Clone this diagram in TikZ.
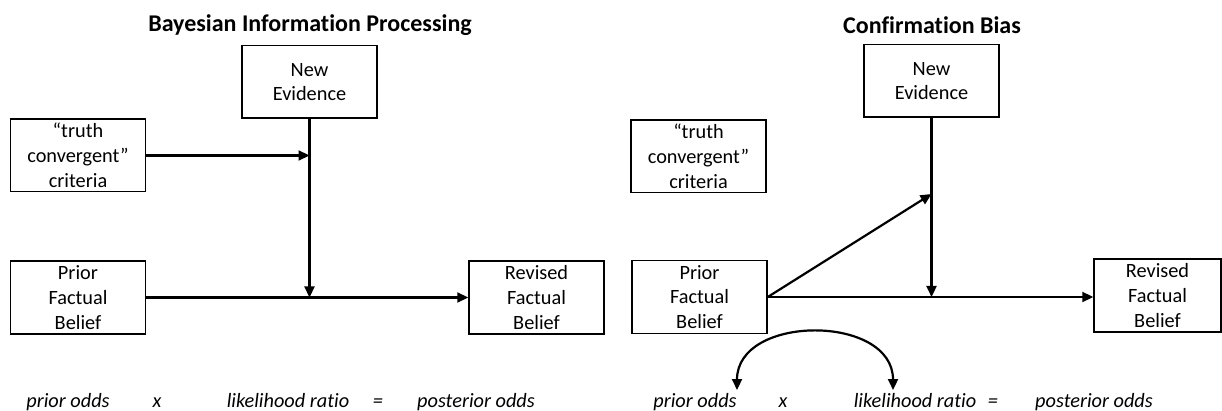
\documentclass[tikz,border=0pt]{standalone}
\usepackage{fontspec}
\setmainfont{Carlito}[Ligatures=NoCommon]
\usetikzlibrary{arrows.meta}
\tikzstyle{every node}=[font=\fontsize{20.3}{24.8}\selectfont]
\tikzstyle{factor}=[draw=black,line width=1.5pt,minimum width=135pt,minimum height=72.5pt,align=center,inner sep=0pt]
\tikzstyle{formula}=[font=\fontsize{20.3}{24.8}\selectfont\itshape,anchor=base]
\tikzstyle{heading}=[font=\fontsize{24}{28}\selectfont\bfseries]
\tikzstyle{link}=[line width=2.2pt,-{Triangle[length=11pt,width=10pt]}]

\begin{document}
\begin{tikzpicture}[x=1pt,y=-1pt]
    \useasboundingbox (0,0) rectangle (1222,411);

    \node[heading] (headl) at (310,25) {Bayesian Information Processing};
    \node[factor] (nel) at (309.5,82) {New\\Evidence};
    \node[factor] (tl) at (78,155.5) {“truth\\convergent”\\criteria};
    \node[factor] (pl) at (78,297.5) {Prior\\Factual\\Belief};
    \node[factor] (rl) at (536.5,297.5) {Revised\\Factual\\Belief};
    \draw[link] (tl.east) -- (tl.east -| nel.south);
    \draw[link] (nel.south) -- (nel.south |- pl.east);
    \draw[link] (pl.east) -- (rl.west);
    \node[formula] (pol) at (68,407) {prior odds};
    \node[formula] (xl) at (157,407) {x};
    \node[formula] (lrl) at (288,407) {likelihood ratio};
    \node[formula] (eql) at (378,407) {=};
    \node[formula] (psl) at (476,407) {posterior odds};

    \node[heading] (headr) at (932,25) {Confirmation Bias};
    \node[factor] (ner) at (931.5,81) {New\\Evidence};
    \node[factor] (tr) at (698.5,156.5) {“truth\\convergent”\\criteria};
    \node[factor] (pr) at (699.5,297) {Prior\\Factual\\Belief};
    \node[factor,minimum width=127pt] (rr) at (1157.5,295.5) {Revised\\Factual\\Belief};
    \coordinate (hit) at (931.5,194);
    \draw[link] (pr.east) -- (hit);
    \draw[link] (ner.south) -- (ner.south |- pr.east);
    \draw[link] (pr.east) -- (pr.east -| rr.west);
    \node[formula] (por) at (695,407) {prior odds};
    \node[formula] (xr) at (783,407) {x};
    \node[formula] (lrr) at (915,407) {likelihood ratio};
    \node[formula] (eqr) at (993,407) {=};
    \node[formula] (psr) at (1094,407) {posterior odds};
    \coordinate (swapa) at (737,390);
    \coordinate (swapb) at (893,390);
    \draw[line width=2.2pt,{Triangle[length=11pt,width=10pt]}-{Triangle[length=11pt,width=10pt]}]
        (swapa) .. controls (737,314) and (893,314) .. (swapb);
\end{tikzpicture}
\end{document}
